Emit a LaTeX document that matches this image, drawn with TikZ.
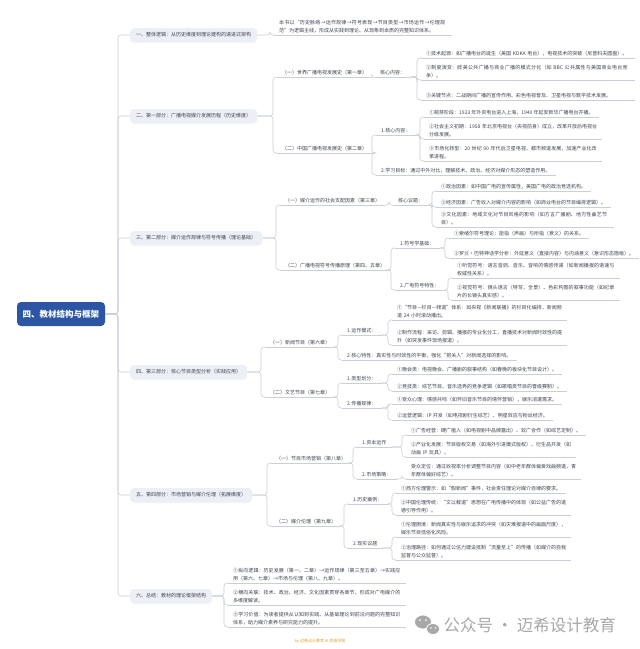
\documentclass[tikz,border=0pt]{standalone}
\usepackage{fontspec}
\setmainfont{Noto Sans CJK SC}
\usetikzlibrary{shadows}
\XeTeXlinebreaklocale "zh"
\XeTeXlinebreakskip=0pt plus 1pt

\definecolor{linec}{HTML}{C9CED8}
\definecolor{txtc}{HTML}{3E4350}
\definecolor{secfill}{HTML}{ECEFF6}
\definecolor{rootc}{HTML}{2C56A4}
\definecolor{wmc}{HTML}{A8A8A8}
\definecolor{credc}{HTML}{D9A441}

\begin{document}
\begin{tikzpicture}[
      x=1pt, y=-1pt,
      every node/.style={font=\fontsize{5}{7.6}\selectfont, text=txtc},
      sec/.style={
        fill=secfill, rounded corners=4pt, anchor=west,
        inner xsep=6pt, inner ysep=4pt, minimum height=14pt,
        drop shadow={opacity=0.08, shadow xshift=0pt, shadow yshift=-1pt}
      },
      uline/.style={draw=linec, line width=0.6pt},
      topic/.style={
        anchor=south west, inner xsep=5pt, inner ysep=2pt,
        append after command={(\tikzlastnode.south west) edge[uline] (\tikzlastnode.south east)}
      },
      leaf/.style={topic, text width=#1, align=left},
      conn/.style={draw=linec, line width=0.6pt, rounded corners=3pt}
      ]

  \useasboundingbox[fill=white] (0,0) rectangle (640,649);

  % Root
  \node[fill=rootc, rounded corners=4pt, text=white,
        font=\fontsize{8.5}{10}\selectfont\bfseries,
        minimum width=88pt, minimum height=24pt] (root) at (61,314) {四、教材结构与框架};

  % Sections
  \node[sec] (s1) at (130,35)  {一、整体逻辑：从历史维度到理论建构的递进式架构};
  \node[sec] (s2) at (130,116) {二、第一部分：广播电视媒介发展历程（历史维度）};
  \node[sec] (s3) at (130,238) {三、第二部分：媒介运作规律与符号传播（理论基础）};
  \node[sec] (s4) at (130,372) {四、第三部分：核心节目类型分析（实践应用）};
  \node[sec] (s5) at (130,495) {五、第四部分：市场营销与媒介伦理（拓展维度）};
  \node[sec] (s6) at (130,596) {六、总结：教材的理论框架结构};

  % Part one
  \node[leaf=168pt] (s1a) at (274,35) {本书以“历史脉络→运作规律→符号表现→节目类型→市场运作→伦理规范”为逻辑主线，形成从实践到理论、从现象到本质的完整知识体系。};

  \node[topic] (w1)  at (277,77)  {（一）世界广播电视发展史（第一章）};
  \node[topic] (w1c) at (375,77)  {核心内容：};
  \node[leaf=204pt] (w1c1) at (421,58)  {①技术起源：如广播电台的诞生（美国 KDKA 电台），电视技术的突破（尼普科夫圆盘）。};
  \node[leaf=204pt] (w1c2) at (421,80)  {②制度演变：欧美公共广播与商业广播的模式分化（如 BBC 公共属性与美国商业电台竞争）。};
  \node[leaf=204pt] (w1c3) at (421,100) {③关键节点：二战期间广播的宣传作用、彩色电视普及、卫星电视与数字技术发展。};

  \node[topic] (w2)  at (277,153) {（二）中国广播电视发展史（第二章）};
  \node[topic] (w2a) at (376,135) {1.核心内容：};
  \node[topic] (w2b) at (376,175) {2.学习目标：通过中外对比，理解技术、政治、经济对媒介形态的塑造作用。};
  \node[topic] (w2a1) at (424,117) {①萌芽阶段：1923 年外资电台进入上海，1940 年延安新华广播电台开播。};
  \node[leaf=168pt] (w2a2) at (424,139) {②社会主义初期：1958 年北京电视台（央视前身）成立，改革开放后电视台分级发展。};
  \node[leaf=168pt] (w2a3) at (424,161) {③市场化转型：20 世纪 90 年代后卫星电视、都市频道发展，加速产业化改革进程。};

  % Part two
  \node[topic] (m1)  at (280,205) {（一）媒介运作的社会支配因素（第三章）};
  \node[topic] (m1a) at (393,205) {核心议题：};
  \node[topic] (m1a1) at (436,191) {①政治因素：如中国广电的宣传属性，美国广电的政治竞选机构。};
  \node[topic] (m1a2) at (436,207) {②经济因素：广告收入对媒介内容的影响（如商业电台的节目编排逻辑）。};
  \node[leaf=168pt] (m1a3) at (436,227) {③文化因素：地域文化对节目风格的影响（如方言广播剧、地方性曲艺节目）。};

  \node[topic] (m2)  at (280,270) {（二）广播电视符号传播原理（第四、五章）};
  \node[topic] (m2a) at (395,248) {1.符号学基础：};
  \node[topic] (m2b) at (395,290) {2.广电符号特性：};
  \node[topic] (m2a1) at (449,238) {①索绪尔符号理论：能指（声画）与所指（意义）的关系。};
  \node[topic] (m2a2) at (449,258) {②罗兰·巴特神话学分析：外延意义（直接内容）与内涵意义（意识形态隐喻）。};
  \node[leaf=158pt] (m2b1) at (452,278) {①听觉符号：语言音调、音乐、音响的情感传递（如新闻播报的语速与权威性关系）。};
  \node[leaf=158pt] (m2b2) at (452,300) {②视觉符号：镜头语言（特写、全景）、色彩构图的叙事功能（如纪录片的长镜头真实感）。};

  % Part three
  \node[topic] (n1)  at (265,347) {（一）新闻节目（第六章）};
  \node[topic] (n1a) at (342,335) {1.运作模式：};
  \node[topic] (n1b) at (342,360) {2.核心特性：真实性与时效性的平衡，强化“把关人”对新闻选择的影响。};
  \node[leaf=165pt] (n1a1) at (392,320) {①“节目—栏目—频道”体系：如央视《新闻联播》的栏目化编排，新闻频道 24 小时滚动播出。};
  \node[leaf=165pt] (n1a2) at (392,345) {②制作流程：采访、剪辑、播报的专业化分工，直播技术对新闻时效性的提升（如突发事件现场报道）。};

  \node[topic] (n2)  at (265,397) {（二）文艺节目（第七章）};
  \node[topic] (n2a) at (342,383) {1.类型划分：};
  \node[topic] (n2b) at (342,408) {2.传播规律：};
  \node[topic] (n2a1) at (392,374) {①晚会类：电视晚会、广播剧的叙事结构（如春晚的板块化节目设计）。};
  \node[topic] (n2a2) at (392,391) {②竞技类：综艺节目、音乐选秀的竞争逻辑（如歌唱类节目的晋级赛制）。};
  \node[topic] (n2b1) at (392,404) {①受众心理：情感共鸣（如怀旧音乐节目的情怀营销），娱乐消遣需求。};
  \node[topic] (n2b2) at (392,420) {②运营逻辑：IP 开发（如电视剧衍生综艺）、明星效应与粉丝经济。};

  % Part four
  \node[topic] (p1)  at (271,463) {（一）节目市场营销（第八章）};
  \node[topic] (p1a) at (357,447) {1.资本运作};
  \node[topic] (p1b) at (357,479) {2.市场策略：};
  \node[topic] (p1a1) at (406,435) {①广告经营：硬广植入（如电视剧中品牌露出）、软广合作（如综艺定制）。};
  \node[leaf=160pt] (p1a2) at (406,457) {②产业化发展：节目版权交易（如海外引进模式版权）、衍生品开发（如动画 IP 玩具）。};
  \node[leaf=165pt] (p1b1) at (406,479) {受众定位：通过收视率分析调整节目内容（如中老年群体偏爱戏曲频道，青年群体偏好综艺）。};

  \node[topic] (p2)  at (271,526) {（二）媒介伦理（第九章）};
  \node[topic] (p2a) at (348,504) {1.历史案例：};
  \node[topic] (p2b) at (348,548) {2.现实议题};
  \node[topic] (p2a1) at (396,493) {①西方伦理警示：如“假新闻”事件，社会责任理论对媒介自律的要求。};
  \node[leaf=165pt] (p2a2) at (396,515) {②中国伦理传统：“文以载道”思想在广电传播中的体现（如公益广告的道德引导作用）。};
  \node[leaf=165pt] (p2b1) at (396,537) {①伦理困境：新闻真实性与娱乐追求的冲突（如灾难报道中的画面尺度），娱乐节目低俗化风险。};
  \node[leaf=165pt] (p2b2) at (396,560) {②治理路径：如何通过公信力建设抵制“流量至上”的传播（如媒介的自我监督与公众监督）。};

  % Summary
  \node[leaf=168pt] (t1) at (228,583) {①纵向逻辑：历史发展（第一、二章）→运作规律（第三至五章）→实践应用（第六、七章）→市场与伦理（第八、九章）。};
  \node[leaf=168pt] (t2) at (228,605) {②横向关联：技术、政治、经济、文化因素贯穿各章节，形成对广电媒介的多维度解读。};
  \node[leaf=168pt] (t3) at (228,627) {③学习价值：为读者提供从认知到实践、从基础理论到前沿问题的完整知识体系，助力媒介素养与研究能力的提升。};

  % Connect the nodes
  \foreach \s in {s1,s2,s3,s4,s5,s6}
    \draw[conn] (\s.west) -- ++(-12,0) |- (root.east);
  \foreach \p/\c in {s1/s1a, s2/w1, s2/w2, s3/m1, s3/m2, s4/n1, s4/n2, s5/p1, s5/p2, s6/t1, s6/t2, s6/t3}
    \draw[conn] (\c.south west) -- ++(-4,0) |- (\p.east);
  \foreach \p/\c in {w1/w1c, w1c/w1c1, w1c/w1c2, w1c/w1c3, w2/w2a, w2/w2b, w2a/w2a1, w2a/w2a2, w2a/w2a3,
                     m1/m1a, m1a/m1a1, m1a/m1a2, m1a/m1a3, m2/m2a, m2/m2b, m2a/m2a1, m2a/m2a2, m2b/m2b1, m2b/m2b2,
                     n1/n1a, n1/n1b, n1a/n1a1, n1a/n1a2, n2/n2a, n2/n2b, n2a/n2a1, n2a/n2a2, n2b/n2b1, n2b/n2b2,
                     p1/p1a, p1/p1b, p1a/p1a1, p1a/p1a2, p1b/p1b1, p2/p2a, p2/p2b, p2a/p2a1, p2a/p2a2, p2b/p2b1, p2b/p2b2}
    \draw[conn] (\c.south west) -- ++(-4,0) |- (\p.south east);

  % Footer
  \node[font=\fontsize{4}{5}\selectfont, text=credc] (credit) at (320,641) {by 迈希设计教育 AI 思维导图};
  \filldraw[fill=wmc, draw=white, line width=0.8pt] (423,622) ellipse (8.5 and 7);
  \filldraw[fill=wmc, draw=white, line width=0.8pt] (433,629) ellipse (6.5 and 5.5);
  \fill[white] (420,620) circle (1) (426,620) circle (1) (431,628) circle (0.8) (435.5,628) circle (0.8);
  \node[font=\fontsize{16.5}{18}\selectfont, text=wmc, anchor=west] (wm) at (440,625) {公众号 · 迈希设计教育};

\end{tikzpicture}
\end{document}
